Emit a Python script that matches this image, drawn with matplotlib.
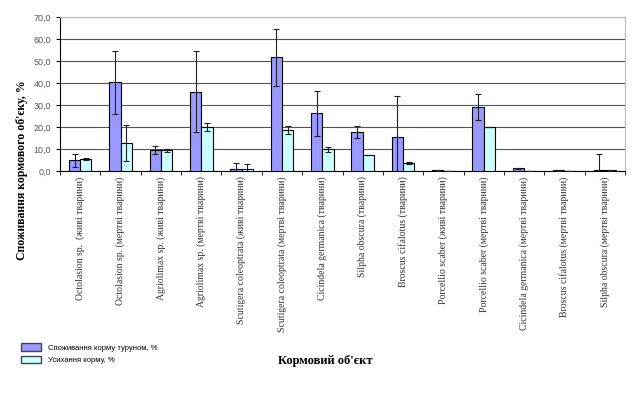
import numpy as np
import matplotlib
matplotlib.use("Agg")
import matplotlib.pyplot as plt
from matplotlib.patches import Patch
from matplotlib.ticker import FuncFormatter, MultipleLocator

categories = [
    "Octolasion sp.  (живі тварини)",
    "Octolasion sp. (мертві тварини)",
    "Agriolimax sp. (живі тварини)",
    "Agriolimax sp. (мертві тварини)",
    "Scutigera coleoptrata (живі тварини)",
    "Scutigera coleoptrata (мертві тварини)",
    "Cicindela germanica (тварини)",
    "Silpha obscura (тварини)",
    "Broscus cifalotus (тварини)",
    "Porcellio scaber (живі тварини)",
    "Porcellio scaber (мертві тварини)",
    "Cicindela germanica (мертві тварини)",
    "Broscus cifalotus (мертві тварини)",
    "Silpha obscura (мертві тварини)",
]
consumed = [4.9, 40.3, 9.5, 36.0, 1.0, 51.7, 26.2, 17.7, 15.4, 0.4, 29.1, 1.2, 0.3, 0.3]
consumed_err = [3.0, 14.3, 1.8, 18.5, 2.5, 13.0, 10.2, 2.8, 18.8, 0.2, 6.0, 0.3, 0.1, 7.3]
dried = [5.3, 12.8, 9.5, 20.0, 0.7, 18.5, 9.8, 7.4, 3.7, 0.0, 20.0, 0.0, 0.0, 0.3]
dried_err = [0.5, 8.2, 0.7, 1.7, 2.3, 1.8, 1.0, 0.0, 0.5, 0.0, 0.0, 0.0, 0.0, 0.3]
series_names = ["Споживання корму туруном, %", "Усихання корму, %"]

c1, c2 = "#9999FF", "#CCFFFF"
serif = "Liberation Serif"
sans = "Liberation Sans"

fig = plt.figure(figsize=(6.35, 3.93), dpi=100)
ax = fig.add_axes([60 / 635, 1 - 171 / 393, 565 / 635, 154 / 393])

x = np.arange(len(categories))
w = 0.28
ax.bar(x - w / 2, consumed, w, color=c1, edgecolor="black", linewidth=0.8, zorder=3)
ax.bar(x + w / 2, dried, w, color=c2, edgecolor="black", linewidth=0.8, zorder=3)
ekw = dict(fmt="none", ecolor="#222222", elinewidth=0.8, capsize=2, capthick=0.8, zorder=4)
ax.errorbar(x - w / 2, consumed, yerr=consumed_err, **ekw)
ax.errorbar(x + w / 2, dried, yerr=dried_err, **ekw)

ax.set_xlim(-0.5, len(categories) - 0.5)
ax.set_ylim(0, 70)
ax.yaxis.set_major_locator(MultipleLocator(10))
ax.yaxis.set_major_formatter(FuncFormatter(lambda v, p: f"{v:.1f}".replace(".", ",")))
ax.grid(axis="y", color="#555555", linewidth=0.8, zorder=0)

ax.set_xticks(x)
ax.set_xticklabels(categories, rotation=90, fontsize=7, family=serif, color="#333333", va="top")
ax.set_xticks(np.arange(len(categories) + 1) - 0.5, minor=True)
ax.tick_params(axis="x", which="major", length=0, pad=4)
ax.tick_params(axis="x", which="minor", length=3, direction="out")
ax.tick_params(axis="y", length=3, direction="out", labelsize=6.5, labelcolor="#555555")
for lab in ax.get_yticklabels():
    lab.set_family(sans)

for s in ["top", "right"]:
    ax.spines[s].set_color("#bbbbbb")
for s in ["left", "bottom"]:
    ax.spines[s].set_color("black")

fig.text(22 / 635, 1 - 170 / 393, "Споживання кормового об'єку, %", rotation=90,
         ha="center", va="center", fontsize=8.5, fontweight="bold", family=serif)
fig.text(325 / 635, 1 - 361 / 393, "Кормовий об'єкт", ha="center", va="center",
         fontsize=9, fontweight="bold", family=serif)

handles = [Patch(facecolor=c1, edgecolor="#444444"), Patch(facecolor=c2, edgecolor="#444444")]
fig.legend(handles, series_names, loc="upper left", bbox_to_anchor=(16 / 635, 1 - 338 / 393),
           frameon=False, prop={"family": sans, "size": 5.5}, handlelength=2.6,
           handleheight=1.1, labelspacing=0.55, handletextpad=0.9, borderpad=0.2)

fig.savefig("out.png", dpi=100)
